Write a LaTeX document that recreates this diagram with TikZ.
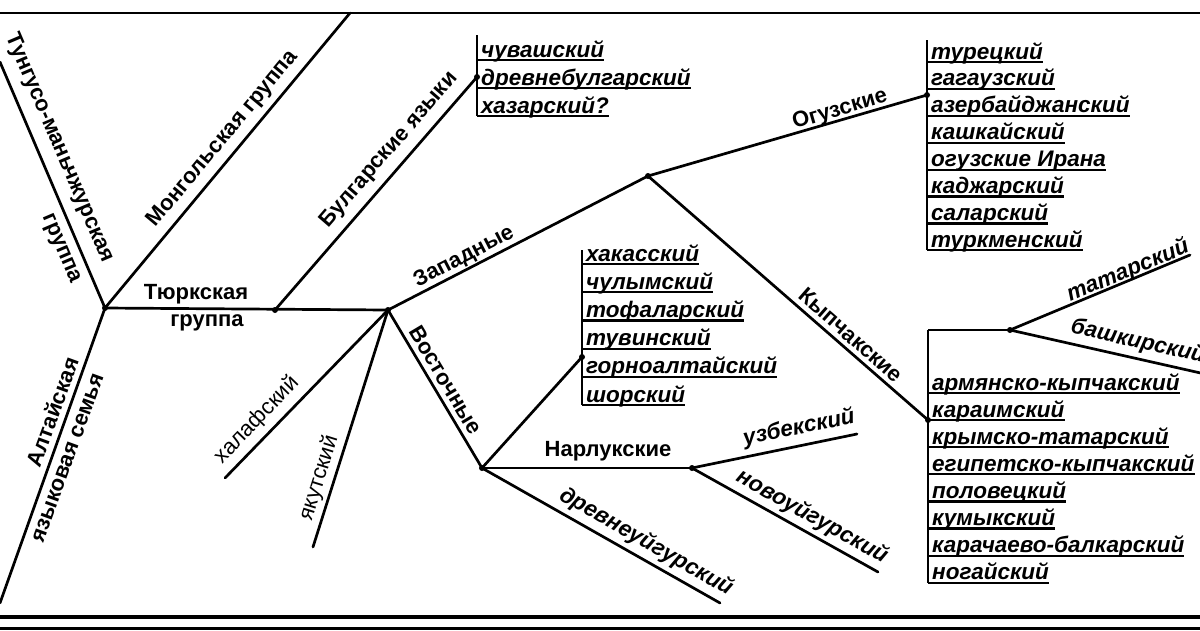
\documentclass[tikz,border=0pt]{standalone}
\usepackage{fontspec}
\setmainfont{Liberation Sans}
\tikzset{
  branch/.style={line width=2.7pt, line cap=round},
  frameline/.style={line width=2.4pt},
  bracketline/.style={line width=2.4pt},
  uline/.style={line width=2.2pt},
  lbl/.style={font=\fontsize{22}{26}\selectfont\bfseries, inner sep=0pt},
  plbl/.style={font=\fontsize{22}{26}\selectfont, inner sep=0pt},
  lname/.style={font=\fontsize{22.5}{26}\selectfont\bfseries\itshape, inner sep=0pt},
  lang/.style={font=\fontsize{22.5}{26}\selectfont\bfseries\itshape, inner sep=0pt, anchor=base west},
  jdot/.style={circle, fill, inner sep=0pt, minimum size=6pt}
}
\begin{document}
\begin{tikzpicture}[x=1pt,y=-1pt]
\useasboundingbox (0,0) rectangle (1200,630);
\clip (0,0) rectangle (1200,630);
% frame
\coordinate (tl) at (0,13);
\coordinate (tr) at (1200,13);
\coordinate (bl1) at (0,617);
\coordinate (br1) at (1200,617);
\coordinate (bl2) at (0,628);
\coordinate (br2) at (1200,628);
\draw[frameline] (tl) -- (tr);
\draw[line width=3.2pt] (bl1) -- (br1);
\draw[line width=3pt] (bl2) -- (br2);
% junctions
\coordinate (A) at (105,308);
\coordinate (B) at (388,310);
\coordinate (C) at (648,176);
\coordinate (D) at (482,468);
\coordinate (E) at (692,468);
\coordinate (tung) at (0,62);
\coordinate (mong) at (350,13);
\coordinate (alt) at (0,603);
\coordinate (bulJ) at (275,310);
\coordinate (bulE) at (477,77);
\coordinate (hal) at (225,478);
\coordinate (yak) at (313,547);
\coordinate (sibE) at (582,357);
\coordinate (uzb) at (857,434);
\coordinate (novo) at (878,572);
\coordinate (drev) at (720,603);
\coordinate (ogE) at (927,95);
\coordinate (kyE) at (928,420);
\coordinate (kyT) at (928,330);
\coordinate (tatJ) at (1010,330);
\coordinate (tat) at (1190,255);
\coordinate (bash) at (1205,374);
% branches
\draw[branch] (tung) -- (A);
\draw[branch] (A) -- (mong);
\draw[branch] (A) -- (alt);
\draw[branch] (A) -- (B);
\draw[branch] (bulJ) -- (bulE);
\draw[branch] (B) -- (C);
\draw[branch] (B) -- (D);
\draw[branch] (B) -- (hal);
\draw[branch] (B) -- (yak);
\draw[branch] (D) -- (sibE);
\draw[branch] (D) -- (E);
\draw[branch] (E) -- (uzb);
\draw[branch] (E) -- (novo);
\draw[branch] (D) -- (drev);
\draw[branch] (C) -- (ogE);
\draw[branch] (C) -- (kyE);
\draw[bracketline] (kyT) -- (tatJ);
\draw[branch] (tatJ) -- (tat);
\draw[branch] (tatJ) -- (bash);
\foreach \p in {A,B,C,D,E,bulJ,tatJ,bulE,sibE,ogE,kyE}{\node[jdot] at (\p) {};}
% labels
\node[lbl, rotate=-66.9] (tungL1) at (59,148) {Тунгусо-маньчжурская};
\node[lbl, rotate=-66.9] (tungL2) at (60,249) {группа};
\node[lbl, rotate=70] (altL1) at (52,412) {Алтайская};
\node[lbl, rotate=70] (altL2) at (68,458) {языковая семья};
\node[lbl, rotate=50.2] (mongL) at (223,139) {Монгольская группа};
\node[lbl] (turL1) at (196,294) {Тюркская};
\node[lbl] (turL2) at (207,323) {группа};
\node[lbl, rotate=49.1] (bulL) at (389,150) {Булгарские языки};
\node[lbl, rotate=27.4] (zapL) at (464,257) {Западные};
\node[lbl, rotate=-59.2] (vosL) at (446,380) {Восточные};
\node[plbl, rotate=46] (halL) at (257,420) {халафский};
\node[plbl, rotate=72.7] (yakL) at (319,478) {якутский};
\node[lbl] (narL) at (608,451) {Нарлукские};
\node[lname, rotate=11.3] (uzbL) at (799,428) {узбекский};
\node[lname, rotate=-29.2] (novL) at (812,517) {новоуйгурский};
\node[lname, rotate=-29.6] (drvL) at (646,542) {древнеуйгурский};
\node[lbl, rotate=16.2] (oguL) at (840,110) {Огузские};
\node[lbl, rotate=-41.2] (kypL) at (851,335) {Кыпчакские};
\node[lname, rotate=22.6] (tatL) at (1128,271) {татарский};
\node[lname, rotate=-12.7] (basL) at (1138,342) {башкирский};
% Bulgar list
\draw[bracketline] (477,35) -- (477,116);
\foreach \t [count=\i from 0] in {чувашский, древнебулгарский, хазарский?}{
  \node[lang] (bul\i) at (481,57+28*\i) {\t};
  \draw[uline] (477,60+28*\i) -- ([yshift=-3pt]bul\i.base east);
}
% Siberian list
\draw[bracketline] (582,250) -- (582,405);
\foreach \t [count=\i from 0] in {хакасский, чулымский, тофаларский, тувинский, горноалтайский, шорский}{
  \node[lang] (sib\i) at (586,261+28.2*\i) {\t};
  \draw[uline] (582,264+28.2*\i) -- ([yshift=-3pt]sib\i.base east);
}
% Oghuz list
\draw[bracketline] (927,40) -- (927,250);
\foreach \t [count=\i from 0] in {турецкий, гагаузский, азербайджанский, кашкайский, огузские Ирана, каджарский, саларский, туркменский}{
  \node[lang] (ogu\i) at (931,59+26.9*\i) {\t};
  \draw[uline] (927,62+26.9*\i) -- ([yshift=-3pt]ogu\i.base east);
}
% Kypchak list
\draw[bracketline] (kyT) -- (928,583);
\foreach \t [count=\i from 0] in {армянско-кыпчакский, караимский, крымско-татарский, египетско-кыпчакский, половецкий, кумыкский, карачаево-балкарский, ногайский}{
  \node[lang] (kyp\i) at (932,390+27.1*\i) {\t};
  \draw[uline] (928,393+27.1*\i) -- ([yshift=-3pt]kyp\i.base east);
}
\end{tikzpicture}
\end{document}
